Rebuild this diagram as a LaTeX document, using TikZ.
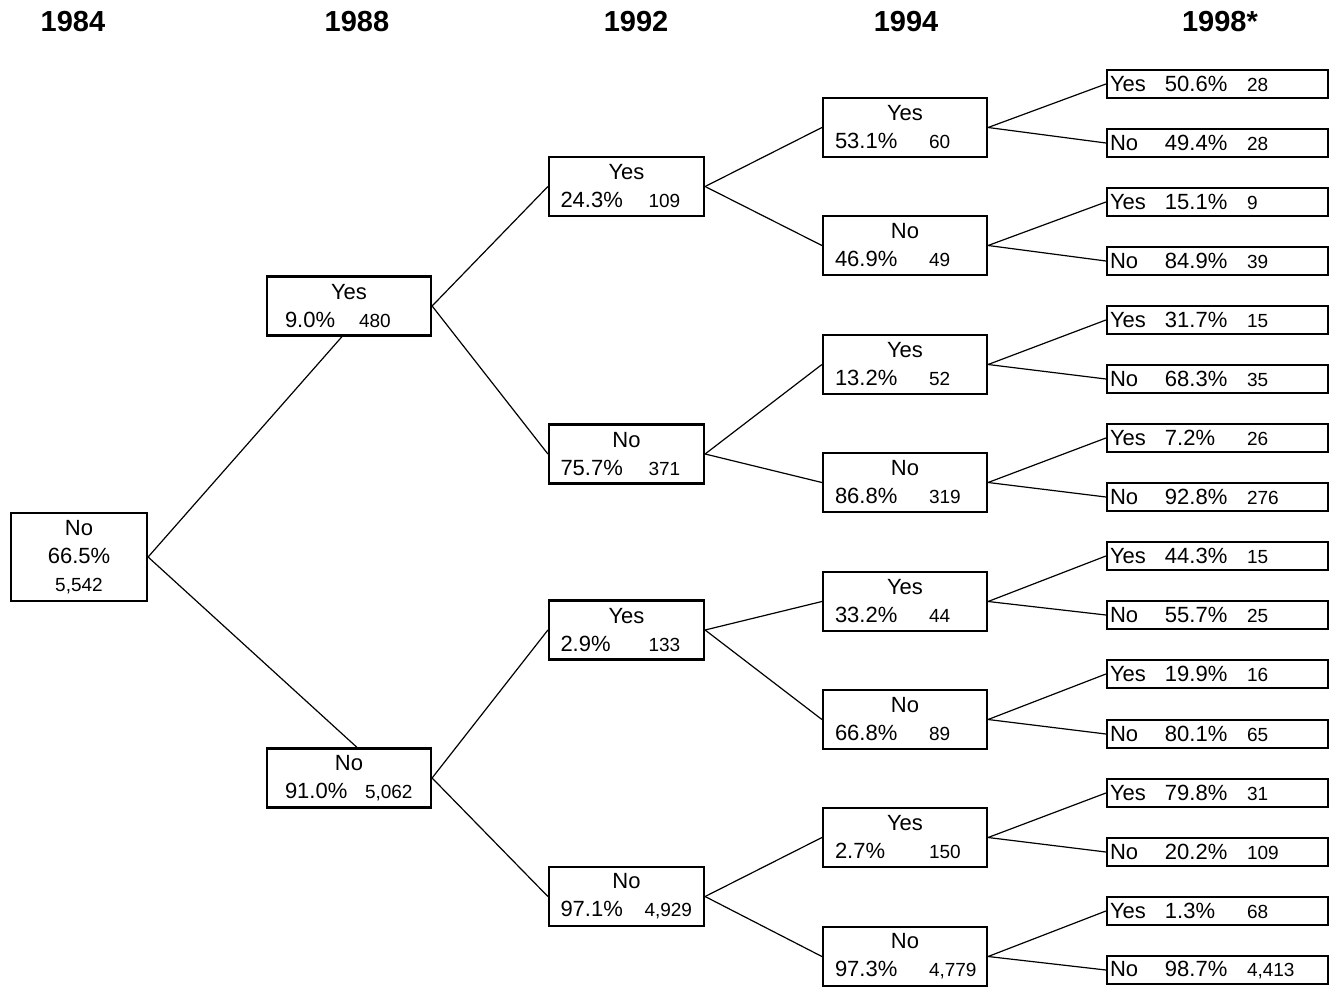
\documentclass[tikz,border=0pt]{standalone}
\usepackage{fontspec}
\setmainfont{Liberation Sans}
\usetikzlibrary{positioning, shadows}
% second line of a box: percentage in a column, count in small type
\newcommand{\pn}[4]{\makebox[#1][l]{\makebox[#2][l]{#3}{\fontsize{9.5}{10}\selectfont #4}}}

\begin{document}
\begin{tikzpicture}[
			x=0.5pt, y=-0.5pt,
			box/.style={rectangle, draw, line width=1.1pt, fill=white, inner sep=0pt, align=center,
				drop shadow={shadow xshift=0.7pt, shadow yshift=-0.7pt, opacity=1, fill=black},
				font=\fontsize{11}{14}\selectfont},
			root/.style={box, minimum width=68pt, minimum height=44pt},
			wave/.style={box, minimum width=82pt, minimum height=29.5pt},
			wave2/.style={box, minimum width=77.5pt, minimum height=29.5pt},
			leaf/.style={box, minimum width=110.5pt, minimum height=14pt, text width=107.5pt, align=left},
			year/.style={font=\bfseries\fontsize{14.5}{16}\selectfont},
			link/.style={line width=0.6pt},
			]
			\useasboundingbox (0,0) rectangle (1332,995);
			
			% Years
			\node (t84) [year] at (73,22) {1984};
			\node (t88) [year] at (357,22) {1988};
			\node (t92) [year] at (636,22) {1992};
			\node (t94) [year] at (906,22) {1994};
			\node (t98) [year] at (1220,22) {1998*};
			
			% Nodes
			\node (R) [root] at (79,557) {No\\66.5\%\\{\fontsize{9.5}{10}\selectfont 5,542}};
			\node (Y) [wave] at (349,306) {Yes\\\pn{64pt}{37pt}{9.0\%}{480}};
			\node (N) [wave] at (349,778) {No\\\pn{64pt}{40pt}{91.0\%}{5,062}};
			
			\node (YY) [wave2] at (626.5,186.5) {Yes\\\pn{66pt}{44pt}{24.3\%}{109}};
			\node (YN) [wave2] at (626.5,454) {No\\\pn{66pt}{44pt}{75.7\%}{371}};
			\node (NY) [wave2] at (626.5,630) {Yes\\\pn{66pt}{44pt}{2.9\%}{133}};
			\node (NN) [wave2] at (626.5,896.5) {No\\\pn{66pt}{42pt}{97.1\%}{4,929}};
			
			\node (YYY) [wave] at (905,127.5) {Yes\\\pn{70pt}{47pt}{53.1\%}{60}};
			\node (YYN) [wave] at (905,245.5) {No\\\pn{70pt}{47pt}{46.9\%}{49}};
			\node (YNY) [wave] at (905,364.5) {Yes\\\pn{70pt}{47pt}{13.2\%}{52}};
			\node (YNN) [wave] at (905,482.5) {No\\\pn{70pt}{47pt}{86.8\%}{319}};
			\node (NYY) [wave] at (905,601.5) {Yes\\\pn{70pt}{47pt}{33.2\%}{44}};
			\node (NYN) [wave] at (905,719.5) {No\\\pn{70pt}{47pt}{66.8\%}{89}};
			\node (NNY) [wave] at (905,837.5) {Yes\\\pn{70pt}{47pt}{2.7\%}{150}};
			\node (NNN) [wave] at (905,956.5) {No\\\pn{70pt}{47pt}{97.3\%}{4,779}};
			
			\node (YYYy) [leaf] at (1217.5,84) {\makebox[27.5pt][l]{Yes}\pn{80pt}{41pt}{50.6\%}{28}};
			\node (YYYn) [leaf] at (1217.5,143) {\makebox[27.5pt][l]{No}\pn{80pt}{41pt}{49.4\%}{28}};
			\node (YYNy) [leaf] at (1217.5,202) {\makebox[27.5pt][l]{Yes}\pn{80pt}{41pt}{15.1\%}{9}};
			\node (YYNn) [leaf] at (1217.5,261) {\makebox[27.5pt][l]{No}\pn{80pt}{41pt}{84.9\%}{39}};
			\node (YNYy) [leaf] at (1217.5,320) {\makebox[27.5pt][l]{Yes}\pn{80pt}{41pt}{31.7\%}{15}};
			\node (YNYn) [leaf] at (1217.5,379) {\makebox[27.5pt][l]{No}\pn{80pt}{41pt}{68.3\%}{35}};
			\node (YNNy) [leaf] at (1217.5,438) {\makebox[27.5pt][l]{Yes}\pn{80pt}{41pt}{7.2\%}{26}};
			\node (YNNn) [leaf] at (1217.5,497) {\makebox[27.5pt][l]{No}\pn{80pt}{41pt}{92.8\%}{276}};
			\node (NYYy) [leaf] at (1217.5,556) {\makebox[27.5pt][l]{Yes}\pn{80pt}{41pt}{44.3\%}{15}};
			\node (NYYn) [leaf] at (1217.5,615) {\makebox[27.5pt][l]{No}\pn{80pt}{41pt}{55.7\%}{25}};
			\node (NYNy) [leaf] at (1217.5,674) {\makebox[27.5pt][l]{Yes}\pn{80pt}{41pt}{19.9\%}{16}};
			\node (NYNn) [leaf] at (1217.5,734) {\makebox[27.5pt][l]{No}\pn{80pt}{41pt}{80.1\%}{65}};
			\node (NNYy) [leaf] at (1217.5,793) {\makebox[27.5pt][l]{Yes}\pn{80pt}{41pt}{79.8\%}{31}};
			\node (NNYn) [leaf] at (1217.5,852) {\makebox[27.5pt][l]{No}\pn{80pt}{41pt}{20.2\%}{109}};
			\node (NNNy) [leaf] at (1217.5,911) {\makebox[27.5pt][l]{Yes}\pn{80pt}{41pt}{1.3\%}{68}};
			\node (NNNn) [leaf] at (1217.5,970) {\makebox[27.5pt][l]{No}\pn{80pt}{41pt}{98.7\%}{4,413}};
			
			% Connectors
			\draw[link] (R.east) -- ([xshift=-3.5pt]Y.south);
			\draw[link] (R.east) -- ([xshift=4pt]N.north);
			\draw[link] (Y.east) -- (YY.west);
			\draw[link] (Y.east) -- (YN.west);
			\draw[link] (N.east) -- (NY.west);
			\draw[link] (N.east) -- (NN.west);
			\draw[link] (YY.east) -- (YYY.west);
			\draw[link] (YY.east) -- (YYN.west);
			\draw[link] (YN.east) -- (YNY.west);
			\draw[link] (YN.east) -- (YNN.west);
			\draw[link] (NY.east) -- (NYY.west);
			\draw[link] (NY.east) -- (NYN.west);
			\draw[link] (NN.east) -- (NNY.west);
			\draw[link] (NN.east) -- (NNN.west);
			\draw[link] (YYY.east) -- (YYYy.west);
			\draw[link] (YYY.east) -- (YYYn.west);
			\draw[link] (YYN.east) -- (YYNy.west);
			\draw[link] (YYN.east) -- (YYNn.west);
			\draw[link] (YNY.east) -- (YNYy.west);
			\draw[link] (YNY.east) -- (YNYn.west);
			\draw[link] (YNN.east) -- (YNNy.west);
			\draw[link] (YNN.east) -- (YNNn.west);
			\draw[link] (NYY.east) -- (NYYy.west);
			\draw[link] (NYY.east) -- (NYYn.west);
			\draw[link] (NYN.east) -- (NYNy.west);
			\draw[link] (NYN.east) -- (NYNn.west);
			\draw[link] (NNY.east) -- (NNYy.west);
			\draw[link] (NNY.east) -- (NNYn.west);
			\draw[link] (NNN.east) -- (NNNy.west);
			\draw[link] (NNN.east) -- (NNNn.west);
		\end{tikzpicture}
\end{document}
